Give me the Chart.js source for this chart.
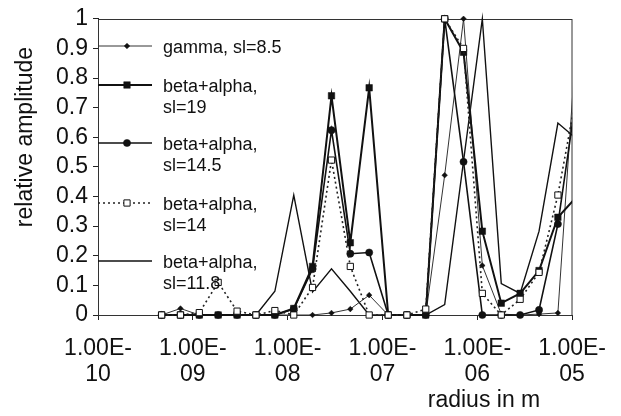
<!DOCTYPE html>
<html>
<head>
<meta charset="utf-8">
<script src="https://cdn.jsdelivr.net/npm/chart.js"></script>
<style>
  html, body { margin: 0; padding: 0; background: #fff; }
  #wrap { width: 621px; height: 416px; }
</style>
</head>
<body>
<div id="wrap"><canvas id="amplitude-chart"></canvas></div>
<script>
// radius of each bin (m)
const radii = [4.69e-10, 7.41e-10, 1.17e-9, 1.85e-9, 2.93e-9, 4.63e-9, 7.33e-9,
  1.16e-8, 1.83e-8, 2.90e-8, 4.58e-8, 7.24e-8, 1.15e-7, 1.81e-7, 2.86e-7,
  4.53e-7, 7.16e-7, 1.13e-6, 1.79e-6, 2.83e-6, 4.48e-6, 7.08e-6, 1.12e-5];

// relative amplitude per series
const gamma85 = [0, 0.022, 0, 0, 0, 0, 0, 0, 0, 0.007, 0.02, 0.067, 0, 0, 0,
  0.472, 1.0, 0.167, 0.003, 0, 0.003, 0.007, 0.95];
const beta19 = [0, 0, 0, 0, 0, 0, 0, 0.022, 0.164, 0.74, 0.244, 0.767, 0, 0, 0,
  1.0, 0.887, 0.283, 0.04, 0.073, 0.15, 0.33, 0.4];
const beta145 = [0, 0, 0, 0, 0, 0, 0, 0.02, 0.155, 0.624, 0.207, 0.211, 0, 0, 0,
  1.0, 0.517, 0, 0, 0, 0.017, 0.307, 0.75];
const beta14 = [0, 0, 0.008, 0.11, 0.013, 0, 0.015, 0, 0.093, 0.523, 0.164, 0, 0, 0, 0.02,
  1.0, 0.9, 0.073, 0, 0.053, 0.144, 0.405, 0.75];
const beta118 = [0, 0, 0, 0, 0, 0, 0.08, 0.405, 0.078, 0.156, 0.08, 0, 0, 0, 0,
  0.035, 0.52, 1.0, 0.106, 0.073, 0.283, 0.648, 0.594];

// series names (two lines in the legend)
const seriesNames = [
  ["gamma, sl=8.5"],
  ["beta+alpha,", "sl=19"],
  ["beta+alpha,", "sl=14.5"],
  ["beta+alpha,", "sl=14"],
  ["beta+alpha,", "sl=11.8"],
];

// x axis decades and their labels
const xTickValues = [1e-10, 1e-9, 1e-8, 1e-7, 1e-6, 1e-5];
const xTickLabels = [
  ["1.00E-", "10"], ["1.00E-", "09"], ["1.00E-", "08"],
  ["1.00E-", "07"], ["1.00E-", "06"], ["1.00E-", "05"],
];

const xTitle = "radius in m";
const yTitle = "relative amplitude";

const FONT = "'Liberation Sans', Arial, sans-serif";
const INK = "#111";

function toPoints(values) {
  return radii.map((r, i) => ({ x: r, y: values[i] }));
}

const clipArea = { left: 10, top: 10, right: 0, bottom: 10 };

const datasets = [
  {
    data: toPoints(gamma85), borderColor: "#333", borderWidth: 1,
    pointStyle: "rectRot", pointRadius: 2.8, pointBackgroundColor: "#111",
    pointBorderColor: "#111", pointBorderWidth: 0.5, order: 3,
  },
  {
    data: toPoints(beta19), borderColor: INK, borderWidth: 2,
    pointStyle: "rect", pointRadius: 4.6, pointBackgroundColor: "#111",
    pointBorderColor: "#111", pointBorderWidth: 0.5, order: 2,
  },
  {
    data: toPoints(beta145), borderColor: INK, borderWidth: 1.6,
    pointStyle: "circle", pointRadius: 3.6, pointBackgroundColor: "#111",
    pointBorderColor: "#111", pointBorderWidth: 0.5, order: 1,
  },
  {
    data: toPoints(beta14), borderColor: "#222", borderWidth: 1.6, borderDash: [2, 3],
    pointStyle: "rect", pointRadius: 4.4, pointBackgroundColor: "#fff",
    pointBorderColor: "#111", pointBorderWidth: 1, order: 0,
  },
  {
    data: toPoints(beta118), borderColor: INK, borderWidth: 1.4,
    pointRadius: 0, order: 4,
  },
].map((d, i) => ({ label: seriesNames[i].join(" "), tension: 0, clip: clipArea, ...d }));

// draw a legend marker like the library's point styles
function drawMarker(ctx, ds, x, y) {
  const r = ds.pointRadius;
  if (!r) return;
  ctx.save();
  ctx.fillStyle = ds.pointBackgroundColor;
  ctx.strokeStyle = ds.pointBorderColor;
  ctx.lineWidth = ds.pointBorderWidth;
  ctx.setLineDash([]);
  ctx.beginPath();
  if (ds.pointStyle === "rect") {
    const s = r * Math.SQRT1_2;
    ctx.rect(x - s, y - s, 2 * s, 2 * s);
  } else if (ds.pointStyle === "rectRot") {
    ctx.moveTo(x, y - r); ctx.lineTo(x + r, y); ctx.lineTo(x, y + r); ctx.lineTo(x - r, y);
    ctx.closePath();
  } else {
    ctx.arc(x, y, r, 0, Math.PI * 2);
  }
  ctx.fill();
  ctx.stroke();
  ctx.restore();
}

// frame, in-plot legend and axis titles
const decorPlugin = {
  id: "decor",
  beforeDatasetsDraw(chart) {
    const { ctx, chartArea: a } = chart;
    ctx.save();
    ctx.strokeStyle = "#333";
    ctx.lineWidth = 1;
    ctx.strokeRect(Math.round(a.left) + 0.5, Math.round(a.top) + 0.5,
      Math.round(a.width) - 0.5, Math.round(a.height));
    ctx.restore();
  },
  afterDraw(chart) {
    const { ctx, chartArea: a } = chart;
    const rowY = [46, 85, 143, 203, 261];
    ctx.save();
    chart.data.datasets.forEach((ds, i) => {
      const y = rowY[i];
      ctx.strokeStyle = ds.borderColor;
      ctx.lineWidth = ds.borderWidth;
      ctx.setLineDash(ds.borderDash || []);
      ctx.beginPath();
      ctx.moveTo(a.left, y);
      ctx.lineTo(a.left + 54, y);
      ctx.stroke();
      drawMarker(ctx, ds, a.left + 29, y);
      ctx.fillStyle = INK;
      ctx.font = "18px " + FONT;
      ctx.textBaseline = "middle";
      ctx.textAlign = "left";
      seriesNames[i].forEach((line, j) => ctx.fillText(line, a.left + 65, y + 2 + j * 21));
    });

    ctx.font = "23px " + FONT;
    ctx.fillStyle = INK;
    ctx.textAlign = "center";
    ctx.textBaseline = "middle";
    ctx.fillText(xTitle, 484, 401);
    ctx.translate(26, 137);
    ctx.rotate(-Math.PI / 2);
    ctx.fillText(yTitle, 0, 0);
    ctx.restore();
  },
};

new Chart(document.getElementById("amplitude-chart"), {
  type: "line",
  data: { datasets: datasets },
  options: {
    responsive: true,
    maintainAspectRatio: false,
    animation: false,
    layout: { padding: { left: 0, right: 48, top: 15, bottom: 0 } },
    plugins: { legend: { display: false }, tooltip: { enabled: false } },
    scales: {
      x: {
        type: "logarithmic",
        min: 1e-10,
        max: 1e-5,
        afterBuildTicks: (scale) => {
          scale.ticks = xTickValues.map((v) => ({ value: v }));
        },
        afterFit: (scale) => { scale.height = 101; },
        ticks: {
          autoSkip: false,
          maxRotation: 0,
          padding: 15,
          color: INK,
          font: { family: FONT, size: 23, lineHeight: 1.15 },
          callback: (value, index) => xTickLabels[index],
        },
        grid: { display: true, drawOnChartArea: false, tickLength: 5, color: "#222" },
        border: { display: true, color: "#222", width: 1 },
      },
      y: {
        min: 0,
        max: 1,
        afterFit: (scale) => { scale.width = 98; },
        ticks: {
          stepSize: 0.1,
          autoSkip: false,
          padding: 5,
          color: INK,
          font: { family: FONT, size: 23 },
          callback: (value) => String(Math.round(value * 10) / 10),
        },
        grid: { display: true, drawOnChartArea: false, tickLength: 5, color: "#222" },
        border: { display: true, color: "#222", width: 1 },
      },
    },
  },
  plugins: [decorPlugin],
});
</script>
</body>
</html>
